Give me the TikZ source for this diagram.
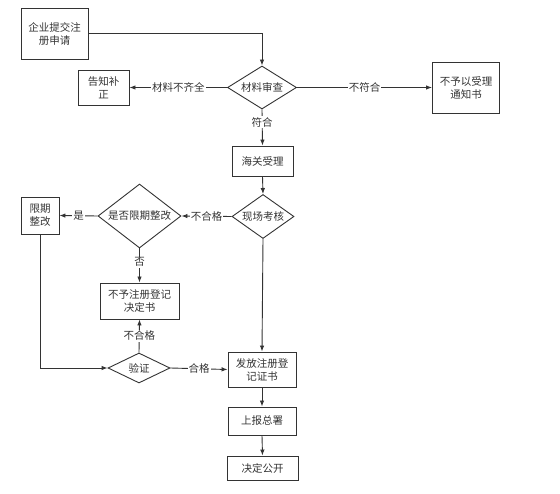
\documentclass[tikz,border=0pt]{standalone}
\usepackage{fontspec}
\setmainfont{Noto Sans CJK SC}
\usetikzlibrary{arrows.meta,shapes.geometric}
\definecolor{ink}{HTML}{333333}
\tikzset{
  box/.style={draw=ink,line width=0.9pt,text=ink,align=center,inner sep=0pt,font=\fontsize{10.5}{13}\selectfont},
  choice/.style={draw=ink,line width=0.9pt,diamond,text=ink,inner sep=0pt,font=\fontsize{10.5}{13}\selectfont},
  flow/.style={draw=ink,line width=0.9pt,-{Latex[length=6pt,width=4.5pt]}},
  tag/.style={fill=white,text=ink,inner sep=1pt,font=\fontsize{10.5}{13}\selectfont}
}
\begin{document}
\begin{tikzpicture}[x=1pt,y=-1pt]
          \useasboundingbox (0,0) rectangle (560,494);
          \node[box,minimum width=67pt,minimum height=51pt] (Apply) at (54.5,33.5) {企业提交注\\册申请};
          \node[choice,shape aspect=1.6,minimum width=69pt,minimum height=43pt] (Check) at (262,87.5) {材料审查};
          \node[box,minimum width=51pt,minimum height=35pt] (Notify) at (103.5,87.5) {告知补\\正};
          \node[box,minimum width=67pt,minimum height=51pt] (Reject) at (466,87.5) {不予以受理\\通知书};
          \node[box,minimum width=61pt,minimum height=30pt] (Accept) at (262.5,161) {海关受理};
          \node[choice,shape aspect=1.41,minimum width=62pt,minimum height=44pt] (Site) at (263,216.5) {现场考核};
          \node[choice,shape aspect=1.3,minimum width=83pt,minimum height=64pt] (Fix) at (139.5,216) {是否限期整改};
          \node[box,minimum width=38pt,minimum height=37pt] (Limit) at (40,215.5) {限期\\整改};
          \node[box,minimum width=79pt,minimum height=36pt] (Deny) at (139.5,301) {不予注册登记\\决定书};
          \node[choice,shape aspect=2.07,minimum width=62pt,minimum height=30pt] (Verify) at (139,368) {验证};
          \node[box,minimum width=68pt,minimum height=35pt] (Issue) at (262,369.5) {发放注册登\\记证书};
          \node[box,minimum width=68pt,minimum height=28pt] (Report) at (262,421) {上报总署};
          \node[box,minimum width=71pt,minimum height=24pt] (Public) at (262.5,468) {决定公开};
          % main line
          \draw[flow] (Apply.east) -| (Check.north);
          \draw[flow] (Check.west) -- node[tag] {材料不齐全} (Notify.east);
          \draw[flow] (Check.east) -- node[tag] {不符合} (Reject.west);
          \draw[flow] (Check.south) -- node[tag,pos=0.35] {符合} (Accept.north);
          \draw[flow] (Accept.south) -- (Site.north);
          \draw[flow] (Site.west) -- node[tag] {不合格} (Fix.east);
          \draw[flow] (Fix.west) -- node[tag] {是} (Limit.east);
          \draw[flow] (Fix.south) -- node[tag,pos=0.4] {否} (Deny.north);
          \draw[flow] (Limit.south) |- (Verify.west);
          \draw[flow] (Verify.north) -- node[tag] {不合格} (Deny.south);
          \draw[flow] (Verify.east) -- node[tag] {合格} (Issue.west);
          \draw[flow] (Site.south) -- (Issue.north);
          \draw[flow] (Issue.south) -- (Report.north);
          \draw[flow] (Report.south) -- (Public.north);
        \end{tikzpicture}
\end{document}
